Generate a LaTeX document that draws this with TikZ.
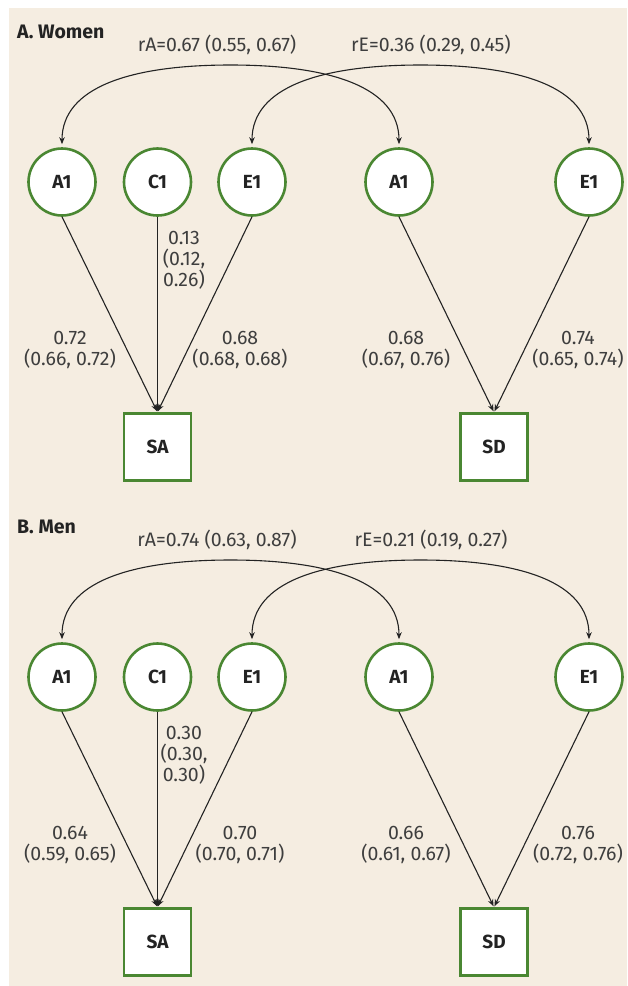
\documentclass[tikz,border=0pt]{standalone}
\usepackage{fontspec}
\setmainfont{Fira Sans}
\usetikzlibrary{arrows.meta}

\definecolor{paper}{RGB}{245,237,225}
\definecolor{latent}{RGB}{74,135,50}
\definecolor{ink}{RGB}{35,35,35}
\definecolor{txt}{RGB}{62,62,62}

\tikzset{
  latentvar/.style={circle, draw=latent, line width=2.6pt, fill=white,
    minimum size=67pt, inner sep=0pt, text=ink,
    font=\fontsize{19}{22}\selectfont\bfseries},
  observed/.style={rectangle, draw=latent, line width=2.6pt, fill=white,
    minimum size=67pt, inner sep=0pt, text=ink,
    font=\fontsize{19}{22}\selectfont\bfseries},
  loading/.style={draw=ink, line width=1.1pt,
    -{Stealth[length=7pt,width=5.5pt]}, shorten >=1pt},
  correl/.style={draw=ink, line width=1.1pt,
    {Stealth[length=7pt,width=5.5pt]}-{Stealth[length=7pt,width=5.5pt]},
    shorten >=3pt, shorten <=3pt},
  estimate/.style={align=center, text=txt, inner sep=0pt,
    font=\fontsize{19.5}{21}\selectfont},
  paneltitle/.style={anchor=west, text=ink, inner sep=0pt,
    font=\fontsize{19.5}{22}\selectfont\bfseries},
}

% One panel of the bivariate ACE model.
% #1 prefix, #2 title, #3 rA, #4 rE, #5 C1->SA, #6 A1->SA, #7 E1->SA,
% #8 A1->SD, #9 E1->SD
\newcommand\acepanel[9]{%
  \node[paneltitle] (#1title) at (17,32) {#2};
  \node[latentvar] (#1a) at (62,182) {A1};
  \node[latentvar] (#1c) at (157.5,182) {C1};
  \node[latentvar] (#1e) at (252,182) {E1};
  \node[latentvar] (#1ra) at (399,182) {A1};
  \node[latentvar] (#1re) at (589,182) {E1};
  \node[observed] (#1sa) at (157.5,447) {SA};
  \node[observed] (#1sd) at (494,447) {SD};
  \coordinate (#1pkA) at (230.5,65);
  \coordinate (#1pkE) at (420.5,65);
  \draw[correl] (#1a.north) .. controls +(0,-60) and +(-100,0) .. (#1pkA)
    .. controls +(100,0) and +(0,-60) .. (#1ra.north);
  \draw[correl] (#1e.north) .. controls +(0,-60) and +(-100,0) .. (#1pkE)
    .. controls +(100,0) and +(0,-60) .. (#1re.north);
  \draw[loading] (#1a.south) -- (#1sa.north);
  \draw[loading] (#1c.south) -- (#1sa.north);
  \draw[loading] (#1e.south) -- (#1sa.north);
  \draw[loading] (#1ra.south) -- (#1sd.north);
  \draw[loading] (#1re.south) -- (#1sd.north);
  \node[estimate] (#1lrA) at (217,45) {#3};
  \node[estimate] (#1lrE) at (431,45) {#4};
  \node[estimate] (#1lc) at (184,260) {#5};
  \node[estimate] (#1lasa) at (70,350) {#6};
  \node[estimate] (#1lesa) at (240,350) {#7};
  \node[estimate] (#1lasd) at (406,350) {#8};
  \node[estimate] (#1lesd) at (578,350) {#9};
}

\begin{document}
\begin{tikzpicture}[x=1pt,y=-1pt]
  \useasboundingbox (0,0) rectangle (627,986);
  \fill[paper] (9,8) rectangle (627,986);
  \acepanel{w}{A. Women}{rA=0.67 (0.55, 0.67)}{rE=0.36 (0.29, 0.45)}
    {0.13\\(0.12,\\0.26)}{0.72\\(0.66, 0.72)}{0.68\\(0.68, 0.68)}
    {0.68\\(0.67, 0.76)}{0.74\\(0.65, 0.74)}
  \begin{scope}[shift={(0,495)}]
    \acepanel{m}{B. Men}{rA=0.74 (0.63, 0.87)}{rE=0.21 (0.19, 0.27)}
      {0.30\\(0.30,\\0.30)}{0.64\\(0.59, 0.65)}{0.70\\(0.70, 0.71)}
      {0.66\\(0.61, 0.67)}{0.76\\(0.72, 0.76)}
  \end{scope}
\end{tikzpicture}
\end{document}
